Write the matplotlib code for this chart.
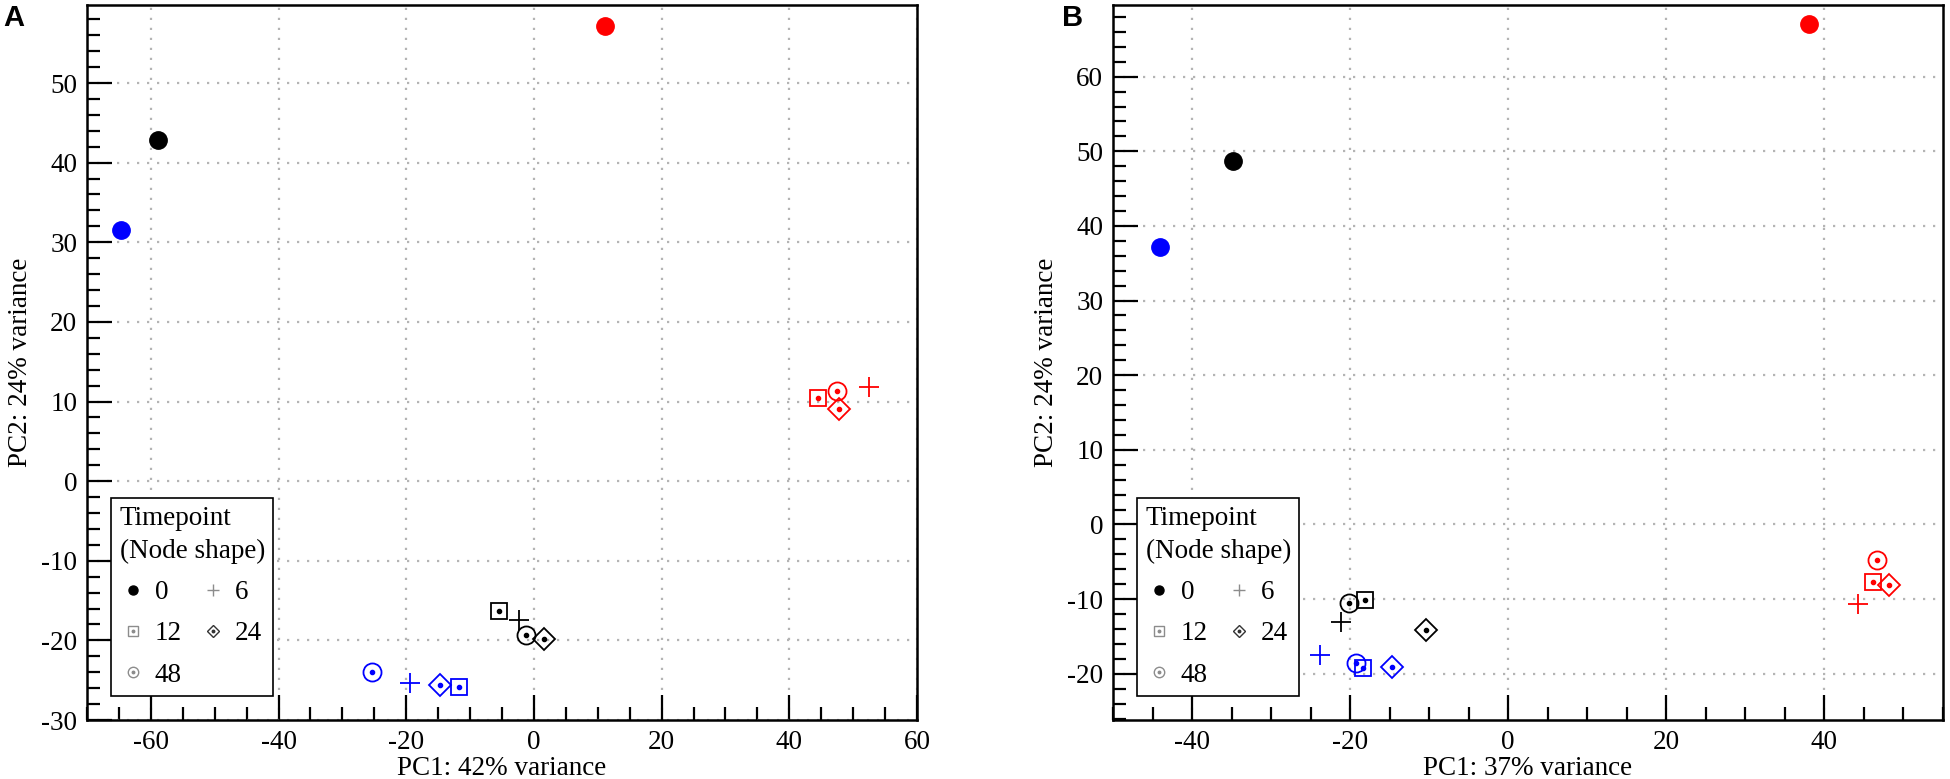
import matplotlib
matplotlib.use("Agg")
import matplotlib.pyplot as plt
from matplotlib.lines import Line2D
from matplotlib.ticker import MultipleLocator

plt.rcParams['font.family'] = ['Liberation Serif', 'DejaVu Serif']
plt.rcParams['axes.unicode_minus'] = False

# # Data ________________________________________________________________________
# order inside every list: timepoint 0, 6, 12, 24, 48
timepoints = ['0', '6', '12', '24', '48']

a_black_pc1 = [-58.9, -2.3, -5.4, 1.5, -1.3]
a_black_pc2 = [42.8, -17.5, -16.3, -19.8, -19.3]
a_blue_pc1 = [-64.7, -19.4, -11.7, -14.7, -25.4]
a_blue_pc2 = [31.5, -25.4, -25.9, -25.6, -24.0]
a_red_pc1 = [11.1, 52.5, 44.5, 47.8, 47.5]
a_red_pc2 = [57.1, 11.8, 10.5, 9.1, 11.3]

b_black_pc1 = [-34.8, -21.2, -18.1, -10.4, -20.2]
b_black_pc2 = [48.7, -13.1, -10.1, -14.1, -10.5]
b_blue_pc1 = [-44.0, -23.8, -18.4, -14.7, -19.2]
b_blue_pc2 = [37.2, -17.5, -19.2, -19.1, -18.6]
b_red_pc1 = [38.0, 44.2, 46.1, 48.2, 46.7]
b_red_pc2 = [67.0, -10.7, -7.7, -8.1, -4.8]

# marker per timepoint: (marker, size, filled, centre dot)
shapes = {'0': ('o', 12.5, True, False),
          '6': ('+', 14, False, False),
          '12': ('s', 12, False, True),
          '24': ('D', 11, False, True),
          '48': ('o', 13, False, True)}

FS = 19.5


def draw_group(ax, xs, ys, color):
    for t, x, y in zip(timepoints, xs, ys):
        m, ms, filled, dot = shapes[t]
        if filled:
            ax.plot([x], [y], ls='none', marker=m, ms=ms, color=color, zorder=3)
        else:
            ax.plot([x], [y], ls='none', marker=m, ms=ms, mfc='none', mec=color,
                    mew=1.3, zorder=3)
        if dot:
            ax.plot([x], [y], ls='none', marker='o', ms=3, color=color, zorder=4)


def legend_handles():
    g = '#8c8c8c'
    h0 = Line2D([], [], ls='none', marker='o', ms=6.5, color='black')
    h6 = Line2D([], [], ls='none', marker='+', ms=8, color=g, mew=1.0)
    h12 = (Line2D([], [], ls='none', marker='s', ms=7, mfc='none', mec=g, mew=1.0),
           Line2D([], [], ls='none', marker='o', ms=1.8, color=g))
    h24 = (Line2D([], [], ls='none', marker='D', ms=6.5, mfc='none', mec='#333333', mew=1.0),
           Line2D([], [], ls='none', marker='o', ms=1.8, color='#333333'))
    h48 = (Line2D([], [], ls='none', marker='o', ms=7.5, mfc='none', mec=g, mew=1.0),
           Line2D([], [], ls='none', marker='o', ms=1.8, color=g))
    # column-first filling gives rows (0, 6), (12, 24), (48)
    return [h0, h12, h48, h6, h24], ['0', '12', '48', '6', '24']


def style_axes(ax, xlim, ylim, xmajor, ymajor, xlabel):
    ax.set_xlim(*xlim)
    ax.set_ylim(*ylim)
    ax.xaxis.set_major_locator(MultipleLocator(xmajor))
    ax.xaxis.set_minor_locator(MultipleLocator(5))
    ax.yaxis.set_major_locator(MultipleLocator(ymajor))
    ax.yaxis.set_minor_locator(MultipleLocator(2))
    ax.tick_params(which='major', direction='in', length=18, width=1.6,
                   labelsize=FS, pad=7, top=False, right=False)
    ax.tick_params(which='minor', direction='in', length=9.5, width=1.6,
                   top=False, right=False)
    ax.grid(True, which='major', color='#b4b4b4', lw=1.6, ls=(0, (1, 3.5)))
    ax.set_axisbelow(True)
    for s in ax.spines.values():
        s.set_linewidth(1.8)
    ax.set_xlabel(xlabel, fontsize=FS, labelpad=1)
    ax.set_ylabel('PC2: 24% variance', fontsize=FS, labelpad=6)
    handles, labels = legend_handles()
    leg = ax.legend(handles, labels, ncol=2, title='Timepoint\n(Node shape)',
                    loc='lower left', alignment='left', fancybox=False,
                    edgecolor='black', framealpha=1, fontsize=FS,
                    title_fontsize=FS, borderaxespad=0.9, handletextpad=0.3,
                    columnspacing=0.65, handlelength=1.0, borderpad=0.3,
                    labelspacing=0.6)
    leg.get_title().set_linespacing(1.4)
    leg.get_frame().set_linewidth(1.2)


fig = plt.figure(figsize=(19.5, 7.79), dpi=100)

ax_a = fig.add_axes([87 / 1950, 59 / 779, 830 / 1950, 715 / 779])
draw_group(ax_a, a_black_pc1, a_black_pc2, 'black')
draw_group(ax_a, a_blue_pc1, a_blue_pc2, '#0000ff')
draw_group(ax_a, a_red_pc1, a_red_pc2, '#ff0000')
style_axes(ax_a, (-70, 60), (-30, 59.8), 20, 10, 'PC1: 42% variance')

ax_b = fig.add_axes([1113 / 1950, 59 / 779, 830 / 1950, 715 / 779])
draw_group(ax_b, b_black_pc1, b_black_pc2, 'black')
draw_group(ax_b, b_blue_pc1, b_blue_pc2, '#0000ff')
draw_group(ax_b, b_red_pc1, b_red_pc2, '#ff0000')
style_axes(ax_b, (-50, 55), (-26.2, 69.6), 20, 10, 'PC1: 37% variance')

fig.text(3 / 1950, 1 - 4 / 779, 'A', fontsize=21, fontweight='bold',
         family='Liberation Sans', ha='left', va='top')
fig.text(1062 / 1950, 1 - 4 / 779, 'B', fontsize=21, fontweight='bold',
         family='Liberation Sans', ha='left', va='top')

fig.savefig('out.png', dpi=100)
